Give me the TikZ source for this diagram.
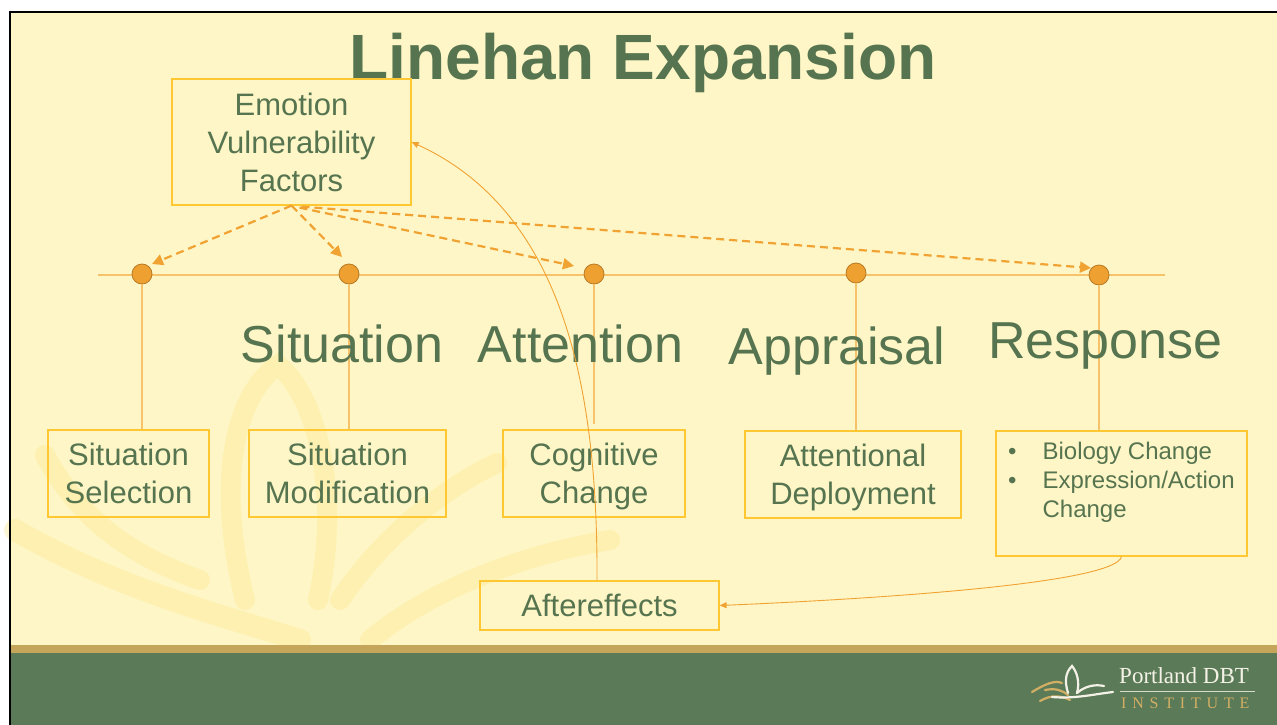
\documentclass[tikz,border=0pt]{standalone}
\usepackage{fontspec}
\setmainfont{Liberation Sans}
\newfontfamily\logofont{Liberation Serif}
\usetikzlibrary{arrows.meta,calc}

\definecolor{slidebg}{HTML}{FEF6C6}
\definecolor{wmark}{HTML}{FCE98F}
\definecolor{bandtan}{HTML}{C4A55A}
\definecolor{bandgreen}{HTML}{5B7B58}
\definecolor{txtg}{HTML}{56744F}
\definecolor{boxc}{HTML}{FFC833}
\definecolor{linec}{HTML}{F6C26A}
\definecolor{dotf}{HTML}{EEA030}
\definecolor{dotd}{HTML}{B77B25}
\definecolor{arrc}{HTML}{F0A232}
\definecolor{logotan}{HTML}{D2AE64}
\definecolor{logowhite}{HTML}{F4F2E6}

\tikzset{
  box/.style={draw=boxc, line width=1.2pt, inner sep=0pt, align=center,
    text=txtg, font=\fontsize{31}{38}\selectfont},
  dot/.style={circle, fill=dotf, draw=dotd, line width=0.8pt,
    minimum size=20pt, inner sep=0pt},
  stem/.style={draw=linec, line width=1.3pt},
  dasharrow/.style={draw=arrc, line width=2.2pt, dash pattern=on 8pt off 5pt,
    -{Triangle[length=11pt,width=11pt]}},
  thincurve/.style={draw=arrc, line width=0.9pt,
    -{Triangle[length=7pt,width=6pt]}},
  biglabel/.style={font=\fontsize{52}{60}\selectfont, text=txtg,
    anchor=base, inner sep=0pt},
  wm/.style={draw=wmark, line width=20pt, line cap=round, opacity=0.4},
  logostroke/.style={line width=2.2pt, line cap=round},
}

\begin{document}
\begin{tikzpicture}[x=1pt,y=-1pt]
\useasboundingbox (0,0) rectangle (1277,725);
\clip (0,0) rectangle (1277,725);

% page and slide background
\fill[white] (0,0) rectangle (1277,725);
\fill[slidebg] (9,12) rectangle (1277,725);

% faint lotus watermark
\draw[wm] (245,600) .. controls (215,480) and (235,395) .. (278,365)
          .. controls (320,400) and (340,500) .. (318,600);
\draw[wm] (45,455) .. controls (80,520) and (130,555) .. (200,580);
\draw[wm, line width=22pt] (15,530) .. controls (120,590) and (220,615) .. (300,640);
\draw[wm] (497,463) .. controls (440,490) and (380,540) .. (340,600);
\draw[wm] (610,540) .. controls (520,555) and (430,590) .. (370,640);

% footer bands
\fill[bandtan] (9,645) rectangle (1277,653);
\fill[bandgreen] (9,653) rectangle (1277,725);

% slide frame
\draw[black, line width=2pt] (9.5,725) -- (9.5,12) -- (1277,12);

% footer logo
\draw[logostroke, logotan] (1032,692) .. controls (1045,684) and (1055,680) .. (1062,683);
\draw[logostroke, logotan] (1040,701) .. controls (1052,694) and (1062,696) .. (1070,700);
\draw[logostroke, logotan] (1045,690) .. controls (1055,688) and (1062,690) .. (1068,695);
\draw[logostroke, logowhite] (1068,693) .. controls (1064,680) and (1066,672) .. (1072,666)
      .. controls (1077,672) and (1080,682) .. (1077,693);
\draw[logostroke, logowhite] (1077,693) .. controls (1085,686) and (1095,684) .. (1104,686);
\draw[logostroke, logowhite] (1052,697) .. controls (1075,699) and (1095,694) .. (1113,692);
\node[anchor=base west, inner sep=0pt, text=logowhite,
      font=\logofont\fontsize{23}{26}\selectfont] (logoname) at (1119,683) {Portland DBT};
\draw[logowhite!80!bandgreen, line width=0.8pt] (1120,691) -- (1255,691);
\node[anchor=base west, inner sep=0pt, text=logotan,
      font=\logofont\fontsize{16}{18}\selectfont] (logosub) at (1121,708)
      {I\hspace{5.8pt}N\hspace{5.8pt}S\hspace{5.8pt}T\hspace{5.8pt}I\hspace{5.8pt}T\hspace{5.8pt}U\hspace{5.8pt}T\hspace{5.8pt}E};

% title
\node[anchor=base, inner sep=0pt, text=txtg,
      font=\bfseries\fontsize{64}{70}\selectfont] (title) at (643,79) {Linehan Expansion};

% timeline
\coordinate (tl) at (98,275);
\coordinate (tr) at (1165,275);
\draw[draw=linec, line width=1.4pt] (tl) -- (tr);

% boxes
\node[box, minimum width=239pt, minimum height=126pt] (emo) at (291.5,142)
      {Emotion\\Vulnerability\\Factors};
\node[box, minimum width=161pt, minimum height=87pt] (ss) at (128.5,473.5)
      {Situation\\Selection};
\node[box, minimum width=197pt, minimum height=87pt] (sm) at (347.5,473.5)
      {Situation\\Modification};
\node[box, minimum width=182pt, minimum height=87pt] (cc) at (594,473.5)
      {Cognitive\\\smash{Change}};
\node[box, minimum width=216pt, minimum height=87pt] (ad) at (853,474.5)
      {Attentional\\\smash{Deployment}};
\node[box, minimum width=251pt, minimum height=125pt] (resp) at (1121.5,493.5) {};
\node[anchor=north west, inner sep=0pt, text=txtg,
      font=\fontsize{24}{29}\selectfont] (resptext) at (1008,438.7)
      {\begin{tabular}{@{}l@{\hspace{26pt}}l@{}}
        \textbullet & Biology Change\\
        \textbullet & Expression/Action\\
                    & Change
       \end{tabular}};
\node[box, minimum width=239pt, minimum height=49pt] (aft) at (599.5,605.5)
      {Aftereffects};

% stage points
\node[dot] (c1) at (142,274) {};
\node[dot] (c2) at (349,274) {};
\node[dot] (c3) at (594,274) {};
\node[dot] (c4) at (856,273) {};
\node[dot] (c5) at (1099,275) {};

% stems from the points down to the strategy boxes
\draw[stem] (c1.south) -- (c1.south |- ss.north);
\draw[stem] (c2.south) -- (c2.south |- sm.north);
\draw[stem] (c3.south) -- ($(c3.south |- cc.north)+(0,-5)$);
\draw[stem] (c4.south) -- (c4.south |- ad.north);
\draw[stem] (c5.south) -- (c5.south |- resp.north);

% stage labels
\node[biglabel] (lsit) at (342,362) {Situation};
\node[biglabel] (latt) at (580.5,362) {Attention};
\node[biglabel] (lapp) at (837,364) {Appraisal};
\node[biglabel] (lres) at (1105.5,358) {Response};

% vulnerability factors act on every stage
\coordinate (a1) at (152,264);
\coordinate (a2) at (342,257);
\coordinate (a3) at (574,266);
\coordinate (a4) at (1091,268);
\draw[dasharrow] (emo.south) -- (a1);
\draw[dasharrow] (emo.south) -- (a2);
\draw[dasharrow] ($(emo.south)+(8,2)$) -- (a3);
\draw[dasharrow] ($(emo.south)+(10,1)$) -- (a4);

% feedback loops
\draw[thincurve] (resp.south) .. controls (1115,585) and (850,600) .. (aft.east);
\draw[thincurve] ($(aft.north)+(-2.5,0)$) .. controls (598,380) and (560,210) .. (emo.east);
\end{tikzpicture}
\end{document}
